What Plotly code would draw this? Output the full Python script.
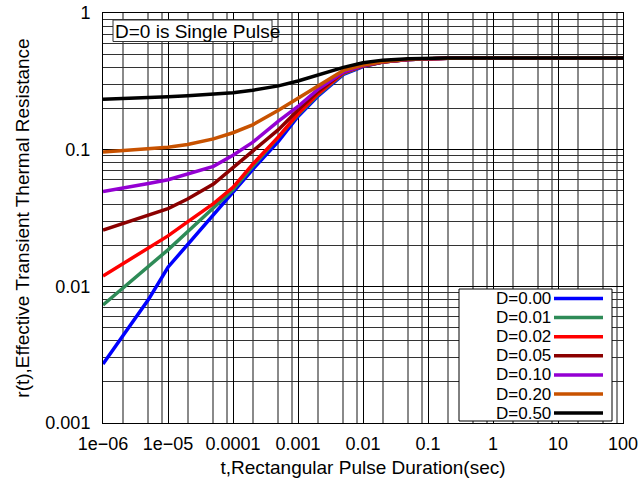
import plotly.graph_objects as go

# ---------------- data ----------------
t_sec = [1e-6, 2e-6, 5e-6, 1e-5, 2e-5, 5e-5, 1e-4, 2e-4, 5e-4, 1e-3, 2e-3, 5e-3,
         1e-2, 2e-2, 5e-2, 1e-1, 2e-1, 1, 10, 100]

r_d000 = [0.0027, 0.00431, 0.0080, 0.0138, 0.0202, 0.0334, 0.049, 0.0715, 0.115, 0.175,
          0.245, 0.355, 0.405, 0.437, 0.457, 0.463, 0.467, 0.468, 0.468, 0.468]
r_d001 = [0.0073, 0.00967, 0.0140, 0.0185, 0.0251, 0.0375, 0.0508, 0.075, 0.122, 0.18,
          0.25, 0.36, 0.408, 0.437, 0.457, 0.463, 0.467, 0.468, 0.468, 0.468]
r_d002 = [0.0119, 0.0146, 0.0191, 0.0234, 0.0296, 0.0403, 0.053, 0.078, 0.124, 0.183,
          0.255, 0.365, 0.41, 0.438, 0.457, 0.463, 0.467, 0.468, 0.468, 0.468]
r_d005 = [0.0258, 0.0287, 0.0332, 0.0370, 0.0435, 0.056, 0.074, 0.097, 0.14, 0.195,
          0.265, 0.37, 0.411, 0.438, 0.457, 0.463, 0.467, 0.468, 0.468, 0.468]
r_d010 = [0.0493, 0.052, 0.0565, 0.0603, 0.066, 0.0755, 0.091, 0.113, 0.162, 0.207,
          0.275, 0.37, 0.413, 0.439, 0.457, 0.463, 0.467, 0.468, 0.468, 0.468]
r_d020 = [0.096, 0.0985, 0.101, 0.104, 0.109, 0.12, 0.133, 0.152, 0.194, 0.237,
          0.29, 0.38, 0.416, 0.44, 0.458, 0.464, 0.467, 0.468, 0.468, 0.468]
r_d050 = [0.234, 0.236, 0.240, 0.244, 0.248, 0.254, 0.261, 0.272, 0.293, 0.318,
          0.35, 0.40, 0.433, 0.452, 0.462, 0.466, 0.468, 0.468, 0.468, 0.468]

series_names = ["D=0.00", "D=0.01", "D=0.02", "D=0.05", "D=0.10", "D=0.20", "D=0.50"]
series_values = [r_d000, r_d001, r_d002, r_d005, r_d010, r_d020, r_d050]

x_tick_vals = [1e-6, 1e-5, 1e-4, 1e-3, 1e-2, 1e-1, 1, 10, 100]
x_tick_text = ["1e\u221206", "1e\u221205", "0.0001", "0.001", "0.01", "0.1", "1", "10", "100"]
x_minor_mult = [2, 5, 8]
y_tick_vals = [0.001, 0.01, 0.1, 1]
y_tick_text = ["0.001", "0.01", "0.1", "1"]

note_text = "D=0 is Single Pulse"
x_title = "t,Rectangular Pulse Duration(sec)"
y_title = "r(t),Effective Transient Thermal Resistance"

# ---------------- style ----------------
colors = ["#0000FF", "#2E8B57", "#FF0000", "#8B0000", "#9400D3", "#C85200", "#000000"]
FONT = "Liberation Sans, Arial, Helvetica, sans-serif"
W, H = 642, 485
ML, MR, MT, MB = 103, 19, 13, 62
PW, PH = W - ML - MR, H - MT - MB


def px(xp):
    return (xp - ML) / PW


def py(yp):
    return (MT + PH - yp) / PH


x_minor_vals = [m * 10.0 ** k for k in range(-6, 2) for m in x_minor_mult]

fig = go.Figure()
for name, vals, col in zip(series_names, series_values, colors):
    fig.add_trace(go.Scatter(x=t_sec, y=vals, mode="lines", name=name,
                             line=dict(color=col, width=3.5), showlegend=False))

fig.update_xaxes(type="log", range=[-6, 2], tickmode="array", tickvals=x_tick_vals,
                 ticktext=x_tick_text, showgrid=True, gridcolor="#000000", gridwidth=1,
                 minor=dict(tickmode="array", tickvals=x_minor_vals, showgrid=True,
                            gridcolor="#8a8a8a", gridwidth=2, ticks=""),
                 showline=True, linecolor="#000000", linewidth=1, mirror=True,
                 ticks="", ticklabelstandoff=4, zeroline=False,
                 tickfont=dict(family=FONT, size=18, color="#000000"),
                 title=dict(text=x_title, font=dict(family=FONT, size=19, color="#000000"),
                            standoff=8))
fig.update_yaxes(type="log", range=[-3, 0], tickmode="array", tickvals=y_tick_vals,
                 ticktext=y_tick_text, showgrid=True, gridcolor="#000000", gridwidth=1,
                 minor=dict(dtick="D1", showgrid=True, gridcolor="#333333", gridwidth=1, ticks=""),
                 showline=True, linecolor="#000000", linewidth=1, mirror=True,
                 ticks="", ticklabelstandoff=8, zeroline=False,
                 tickfont=dict(family=FONT, size=18, color="#000000"),
                 title=dict(text=y_title, font=dict(family=FONT, size=19, color="#000000"),
                            standoff=10))

shapes = []
annotations = []
# note box
shapes.append(dict(type="rect", xref="paper", yref="paper", x0=px(113), x1=px(272),
                   y0=py(41.5), y1=py(20), fillcolor="#FFFFFF",
                   line=dict(color="#333333", width=1), layer="above"))
annotations.append(dict(xref="paper", yref="paper", x=px(113), y=py(31), text=note_text,
                        showarrow=False, xanchor="left", yanchor="middle",
                        font=dict(family=FONT, size=19, color="#000000")))
# legend box
shapes.append(dict(type="rect", xref="paper", yref="paper", x0=px(459), x1=px(612),
                   y0=py(421), y1=py(289), fillcolor="#FFFFFF",
                   line=dict(color="#000000", width=1), layer="above"))
for i, (name, col) in enumerate(zip(series_names, colors)):
    yc = 298.5 + i * 19.1
    shapes.append(dict(type="line", xref="paper", yref="paper", x0=px(554), x1=px(603),
                       y0=py(yc), y1=py(yc), line=dict(color=col, width=3.5), layer="above"))
    annotations.append(dict(xref="paper", yref="paper", x=px(552), y=py(yc), text=name,
                            showarrow=False, xanchor="right", yanchor="middle",
                            borderpad=0, valign="middle",
                            font=dict(family=FONT, size=17, color="#000000")))

fig.update_layout(width=W, height=H, margin=dict(l=ML, r=MR, t=MT, b=MB, autoexpand=False),
                  paper_bgcolor="#FFFFFF", plot_bgcolor="#FFFFFF",
                  shapes=shapes, annotations=annotations, showlegend=False)

fig.write_html("out.html")
